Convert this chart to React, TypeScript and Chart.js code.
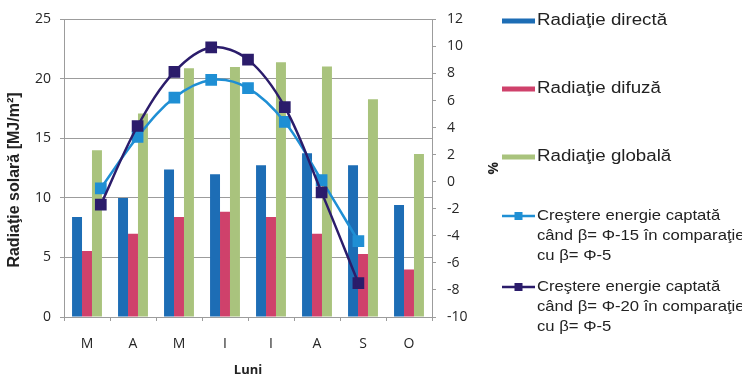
import React, { useEffect, useRef } from "react";
import { Chart, registerables } from "chart.js";

Chart.register(...registerables);

// ---- data ----
const months = ["M", "A", "M", "I", "I", "A", "S", "O"];
const radiatieDirecta = [8.4, 10.0, 12.4, 12.0, 12.75, 13.75, 12.75, 9.4];
const radiatieDifuza = [5.55, 7.0, 8.4, 8.85, 8.4, 7.0, 5.3, 4.0];
const radiatieGlobala = [14.0, 17.1, 20.9, 21.0, 21.4, 21.05, 18.3, 13.7];
const crestere15 = [-0.5, 3.3, 6.2, 7.5, 6.9, 4.4, 0.1, -4.4];
const crestere20 = [-1.7, 4.1, 8.1, 9.9, 9.0, 5.5, -0.8, -7.5];
const leftTicks = [0, 5, 10, 15, 20, 25];
const rightTicks = [-10, -8, -6, -4, -2, 0, 2, 4, 6, 8, 10, 12];

const labelDirecta = "Radiaţie directă";
const labelDifuza = "Radiaţie difuză";
const labelGlobala = "Radiaţie globală";
const label15 = ["Creştere energie captată", "când β= Φ-15 în comparaţie", "cu β= Φ-5"];
const label20 = ["Creştere energie captată", "când β= Φ-20 în comparaţie", "cu β= Φ-5"];
const yTitle = "Radiaţie solară [MJ/m²]";

// ---- layout / styles ----
const W = 742;
const H = 379;
const AREA = { left: 64, right: 432, top: 19, bottom: 317 };
const C_DIRECT = "#1d6db5";
const C_DIFUZ = "#cf416b";
const C_GLOBAL = "#a9c37d";
const C_L15 = "#1f8fd4";
const C_L20 = "#2b1c6b";
const GRID = "#9c9c9c";
const TICK_FONT = { family: "'Open Sans', sans-serif", size: 14 };
const TICK_COLOR = "#262626";

const legendPlugin = {
  id: "customLegend",
  afterDraw(chart: any) {
    const ctx = chart.ctx as CanvasRenderingContext2D;
    ctx.save();
    // y-axis title
    ctx.save();
    ctx.translate(15, 180);
    ctx.rotate(-Math.PI / 2);
    ctx.font = "bold 16px 'Liberation Sans', Arial, sans-serif";
    ctx.fillStyle = "#222";
    ctx.textAlign = "center";
    ctx.textBaseline = "middle";
    ctx.fillText(yTitle, 0, 0);
    ctx.restore();

    const sx = 502;
    const sw = 33;
    const tx = 537;
    const text = (s: string, y: number, size: number, sc: number) => {
      ctx.save();
      ctx.translate(tx, y);
      ctx.scale(sc, 1);
      ctx.font = size + "px 'Liberation Sans', Arial, sans-serif";
      ctx.fillStyle = "#222";
      ctx.textAlign = "left";
      ctx.textBaseline = "middle";
      ctx.fillText(s, 0, 0);
      ctx.restore();
    };
    const box = (color: string, y: number, s: string) => {
      ctx.fillStyle = color;
      ctx.fillRect(sx, y - 2.5, sw, 5);
      text(s, y, 16, 1.17);
    };
    box(C_DIRECT, 21, labelDirecta);
    box(C_DIFUZ, 89, labelDifuza);
    box(C_GLOBAL, 157, labelGlobala);

    const lineItem = (color: string, y: number, lines: string[]) => {
      ctx.strokeStyle = color;
      ctx.lineWidth = 2.5;
      ctx.beginPath();
      ctx.moveTo(sx, y);
      ctx.lineTo(sx + sw, y);
      ctx.stroke();
      ctx.fillStyle = color;
      ctx.fillRect(sx + sw / 2 - 4, y - 4, 8, 8);
      lines.forEach((l, i) => text(l, y + i * 20, 15, 1.11));
    };
    lineItem(C_L15, 216, label15);
    lineItem(C_L20, 287, label20);
    ctx.restore();
  },
};

const barCommon = {
  categoryPercentage: 0.65,
  barPercentage: 1.0,
};

export default function App() {
  const barRef = useRef<HTMLCanvasElement | null>(null);
  const lineRef = useRef<HTMLCanvasElement | null>(null);

  useEffect(() => {
    if (!barRef.current || !lineRef.current) return;
    const barChart = new Chart(barRef.current, {
      type: "bar",
      data: {
        labels: months,
        datasets: [
          { label: labelDirecta, data: radiatieDirecta, backgroundColor: C_DIRECT, ...barCommon },
          { label: labelDifuza, data: radiatieDifuza, backgroundColor: C_DIFUZ, ...barCommon },
          { label: labelGlobala, data: radiatieGlobala, backgroundColor: C_GLOBAL, ...barCommon },
        ],
      },
      options: {
        responsive: false,
        animation: false,
        devicePixelRatio: 1,
        layout: { padding: { left: 0, right: W - 500, top: AREA.top, bottom: 0 } },
        plugins: { legend: { display: false }, tooltip: { enabled: false } },
        scales: {
          x: {
            type: "category",
            position: "bottom",
            offset: true,
            grid: { offset: true, drawOnChartArea: false, color: GRID, tickLength: 4 },
            border: { color: GRID },
            ticks: { font: TICK_FONT, color: TICK_COLOR, padding: 15, maxRotation: 0 },
            title: {
              display: true,
              text: "Luni",
              font: { family: "'Open Sans', sans-serif", size: 13, weight: "bold" },
              color: "#222",
              padding: { top: 0, bottom: 1 },
            },
            afterFit: (s: any) => {
              s.height = H - AREA.bottom;
            },
          },
          y: {
            position: "left",
            min: leftTicks[0],
            max: leftTicks[leftTicks.length - 1],
            ticks: {
              stepSize: leftTicks[1] - leftTicks[0],
              font: TICK_FONT,
              color: TICK_COLOR,
              padding: 9,
            },
            grid: { color: GRID, tickLength: 4 },
            border: { color: GRID },
            afterFit: (s: any) => {
              s.width = AREA.left;
            },
          },
          y2: {
            position: "right",
            min: rightTicks[0],
            max: rightTicks[rightTicks.length - 1],
            ticks: {
              stepSize: rightTicks[1] - rightTicks[0],
              font: TICK_FONT,
              color: TICK_COLOR,
              padding: 11,
            },
            grid: { drawOnChartArea: false, color: GRID, tickLength: 4 },
            border: { color: GRID },
            title: {
              display: true,
              text: "%",
              font: { family: "'Open Sans', sans-serif", size: 14, weight: "bold" },
              color: "#222",
              padding: { top: 0, bottom: 0 },
            },
            afterFit: (s: any) => {
              s.width = 500 - AREA.right;
            },
          },
        },
      } as any,
      plugins: [legendPlugin],
    });

    const lineDs = (label: string, values: number[], color: string) => ({
      label,
      data: values.map((v, i) => ({ x: i, y: v })),
      borderColor: color,
      backgroundColor: color,
      borderWidth: 2.5,
      tension: 0.35,
      pointStyle: "rect",
      pointRadius: 6.5,
      pointBackgroundColor: color,
      pointBorderColor: color,
      clip: false,
    });

    const lineChart = new Chart(lineRef.current, {
      type: "line",
      data: {
        datasets: [
          lineDs(label20.join(" "), crestere20, C_L20),
          lineDs(label15.join(" "), crestere15, C_L15),
        ],
      },
      options: {
        responsive: false,
        animation: false,
        devicePixelRatio: 1,
        layout: {
          padding: { left: AREA.left, right: W - AREA.right, top: AREA.top, bottom: H - AREA.bottom },
        },
        plugins: { legend: { display: false }, tooltip: { enabled: false } },
        scales: {
          x: { type: "linear", display: false, min: -1, max: 9 },
          y: { display: false, min: rightTicks[0], max: rightTicks[rightTicks.length - 1] },
        },
      } as any,
    });

    return () => {
      barChart.destroy();
      lineChart.destroy();
    };
  }, []);

  return (
    <div style={{ position: "fixed", left: 0, top: 0, width: W, height: H, background: "#fff" }}>
      <canvas ref={barRef} width={W} height={H} style={{ position: "absolute", left: 0, top: 0 }} />
      <canvas ref={lineRef} width={W} height={H} style={{ position: "absolute", left: 0, top: 0 }} />
    </div>
  );
}
